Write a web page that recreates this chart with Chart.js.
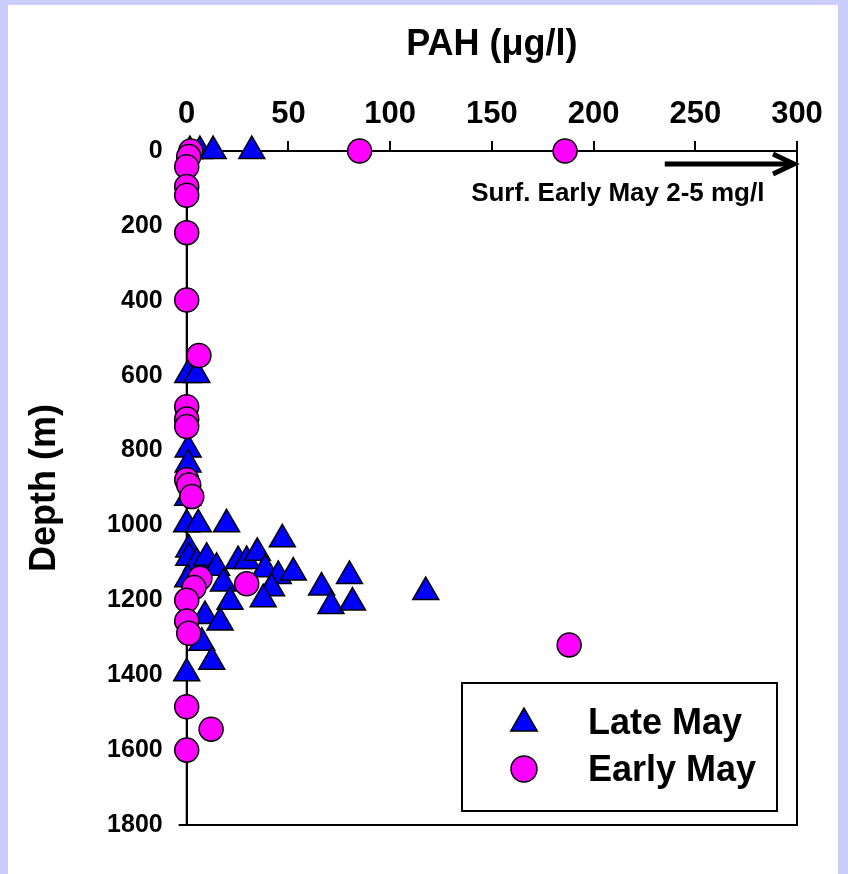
<!DOCTYPE html>
<html>
<head>
<meta charset="utf-8">
<script src="https://cdn.jsdelivr.net/npm/chart.js@4.4.1/dist/chart.umd.min.js"></script>
<style>
  html, body { margin: 0; padding: 0; background: #ccccff; }
  canvas { display: block; }
</style>
</head>
<body>
<canvas id="chart" width="848" height="874"></canvas>
<script>
// PAH concentration (ug/l) against depth (m), two sampling periods
const lateMayPah = [1.6, 6.5, 13, 32, 0.5, 5, 0.7, 0.7, 0.5, 0, 5.7, 19.6, 47,
  1, 1, 4.9, 9.8, 14.7, 25.3, 29.5, 34.7, 38.5, 45, 52.4,
  0.5, 18, 41.7, 66.3, 80, 37.6, 21.3, 70.9, 81.5, 117.5,
  9, 16.4, 7.4, 12.3, 0];
const lateMayDepth = [0, 0, 0, 0, 598, 598, 797, 837, 926, 997, 997, 997, 1037,
  1064, 1086, 1100, 1086, 1113, 1095, 1095, 1073, 1117, 1135, 1126,
  1144, 1155, 1168, 1166, 1135, 1197, 1204, 1215, 1206, 1178,
  1242, 1259, 1313, 1364, 1395];

const earlyMayPah = [2, 85, 186, 1, 0, 0, 0, 0, 0, 6, 0, 0, 0, 0, 1, 2.5,
  6.5, 3.6, 29.5, 0, 0, 1, 188, 0, 12, 0];
const earlyMayDepth = [0, 0, 0, 15, 42, 95, 118, 218, 398, 546, 683, 716, 736, 878, 892, 923,
  1141, 1166, 1156, 1200, 1255, 1288, 1319, 1484, 1544, 1600];

const pahTicks = [0, 50, 100, 150, 200, 250, 300];
const depthTicks = [0, 200, 400, 600, 800, 1000, 1200, 1400, 1600, 1800];
const seriesNames = ['Late May', 'Early May'];
const noteText = 'Surf. Early May 2-5 mg/l';

const family = "'Liberation Sans', Arial, sans-serif";
const lateColor = '#0000ff';
const earlyColor = '#ff00ff';

function toPoints(xs, ys) {
    return xs.map((x, i) => ({ x: x, y: ys[i] }));
}

// lavender frame around a white page
const background = {
    id: 'background',
    beforeDraw(chart) {
        const ctx = chart.ctx;
        ctx.save();
        ctx.fillStyle = '#ccccff';
        ctx.fillRect(0, 0, chart.width, chart.height);
        ctx.fillStyle = '#ffffff';
        ctx.fillRect(8, 5, 830, chart.height - 5);
        ctx.restore();
    }
};

// box round the plot area
const frame = {
    id: 'frame',
    beforeDatasetsDraw(chart) {
        const { ctx, chartArea: a } = chart;
        ctx.save();
        ctx.strokeStyle = '#000';
        ctx.lineWidth = 2;
        ctx.strokeRect(a.left, a.top, a.right - a.left, a.bottom - a.top);
        ctx.restore();
    }
};

// arrow + note for the off-scale surface value
const surfaceNote = {
    id: 'surfaceNote',
    afterDatasetsDraw(chart) {
        const ctx = chart.ctx;
        const xs = chart.scales.x, ys = chart.scales.y;
        const x0 = xs.getPixelForValue(235);
        const x1 = xs.getPixelForValue(300);
        const y = ys.getPixelForValue(35);
        ctx.save();
        ctx.strokeStyle = '#000';
        ctx.lineWidth = 5;
        ctx.lineCap = 'butt';
        ctx.beginPath();
        ctx.moveTo(x0, y);
        ctx.lineTo(x1 - 4, y);
        ctx.stroke();
        ctx.lineJoin = 'miter';
        ctx.beginPath();
        ctx.moveTo(x1 - 24, y - 10);
        ctx.lineTo(x1 - 3, y);
        ctx.lineTo(x1 - 24, y + 10);
        ctx.stroke();
        ctx.fillStyle = '#000';
        ctx.font = 'bold 26px ' + family;
        ctx.textAlign = 'right';
        ctx.textBaseline = 'middle';
        ctx.fillText(noteText, xs.getPixelForValue(284), ys.getPixelForValue(115));
        ctx.restore();
    }
};

// boxed legend in the lower right of the plot
const boxLegend = {
    id: 'boxLegend',
    afterDraw(chart) {
        const ctx = chart.ctx;
        ctx.save();
        ctx.fillStyle = '#ffffff';
        ctx.fillRect(462, 683, 315, 128);
        ctx.strokeStyle = '#000';
        ctx.lineWidth = 2;
        ctx.strokeRect(462, 683, 315, 128);

        ctx.lineWidth = 1.5;
        // triangle
        const r = 15.3, cx = 524, cy = 723.3;
        ctx.beginPath();
        ctx.moveTo(cx, cy - r);
        ctx.lineTo(cx + r * Math.sqrt(3) / 2, cy + r / 2);
        ctx.lineTo(cx - r * Math.sqrt(3) / 2, cy + r / 2);
        ctx.closePath();
        ctx.fillStyle = lateColor;
        ctx.fill();
        ctx.stroke();
        // circle
        ctx.beginPath();
        ctx.arc(524, 769, 13, 0, Math.PI * 2);
        ctx.fillStyle = earlyColor;
        ctx.fill();
        ctx.stroke();

        ctx.fillStyle = '#000';
        ctx.font = 'bold 36px ' + family;
        ctx.textAlign = 'left';
        ctx.textBaseline = 'alphabetic';
        ctx.fillText(seriesNames[0], 588, 734);
        ctx.fillText(seriesNames[1], 588, 781);
        ctx.restore();
    }
};

new Chart(document.getElementById('chart'), {
    type: 'scatter',
    data: {
        datasets: [
            {
                label: seriesNames[0],
                data: toPoints(lateMayPah, lateMayDepth),
                pointStyle: 'triangle',
                pointRadius: 15,
                backgroundColor: lateColor,
                borderColor: '#000',
                borderWidth: 1.5,
                order: 1,
                clip: false
            },
            {
                label: seriesNames[1],
                data: toPoints(earlyMayPah, earlyMayDepth),
                pointStyle: 'circle',
                pointRadius: 12,
                backgroundColor: earlyColor,
                borderColor: '#000',
                borderWidth: 1.5,
                order: 0,
                clip: false
            }
        ]
    },
    options: {
        responsive: false,
        animation: false,
        layout: { padding: { left: 0, top: 0, right: 51, bottom: 49 } },
        plugins: {
            legend: { display: false },
            tooltip: { enabled: false }
        },
        scales: {
            x: {
                type: 'linear',
                position: 'top',
                min: 0,
                max: 300,
                afterBuildTicks: s => { s.ticks = pahTicks.map(v => ({ value: v })); },
                afterFit: s => { s.height = 151; },
                grid: { drawOnChartArea: false, tickLength: 10, color: '#000', lineWidth: 2 },
                border: { color: '#000', width: 2 },
                ticks: {
                    color: '#000',
                    padding: 8,
                    maxRotation: 0,
                    autoSkip: false,
                    callback: v => String(v),
                    font: { family: family, size: 31, weight: 'bold' }
                },
                title: {
                    display: true,
                    text: 'PAH (μg/l)',
                    color: '#000',
                    padding: { top: 23 },
                    font: { family: family, size: 36, weight: 'bold' }
                }
            },
            y: {
                type: 'linear',
                reverse: true,
                min: 0,
                max: 1800,
                afterBuildTicks: s => { s.ticks = depthTicks.map(v => ({ value: v })); },
                afterFit: s => { s.width = 186.7; },
                grid: { drawOnChartArea: false, tickLength: 8, color: '#000', lineWidth: 2 },
                border: { color: '#000', width: 2 },
                ticks: {
                    color: '#000',
                    padding: 16,
                    autoSkip: false,
                    callback: v => String(v),
                    font: { family: family, size: 25, weight: 'bold' }
                },
                title: {
                    display: true,
                    text: 'Depth (m)',
                    color: '#000',
                    padding: { top: 23 },
                    font: { family: family, size: 36, weight: 'bold' }
                }
            }
        }
    },
    plugins: [background, frame, surfaceNote, boxLegend]
});
</script>
</body>
</html>
